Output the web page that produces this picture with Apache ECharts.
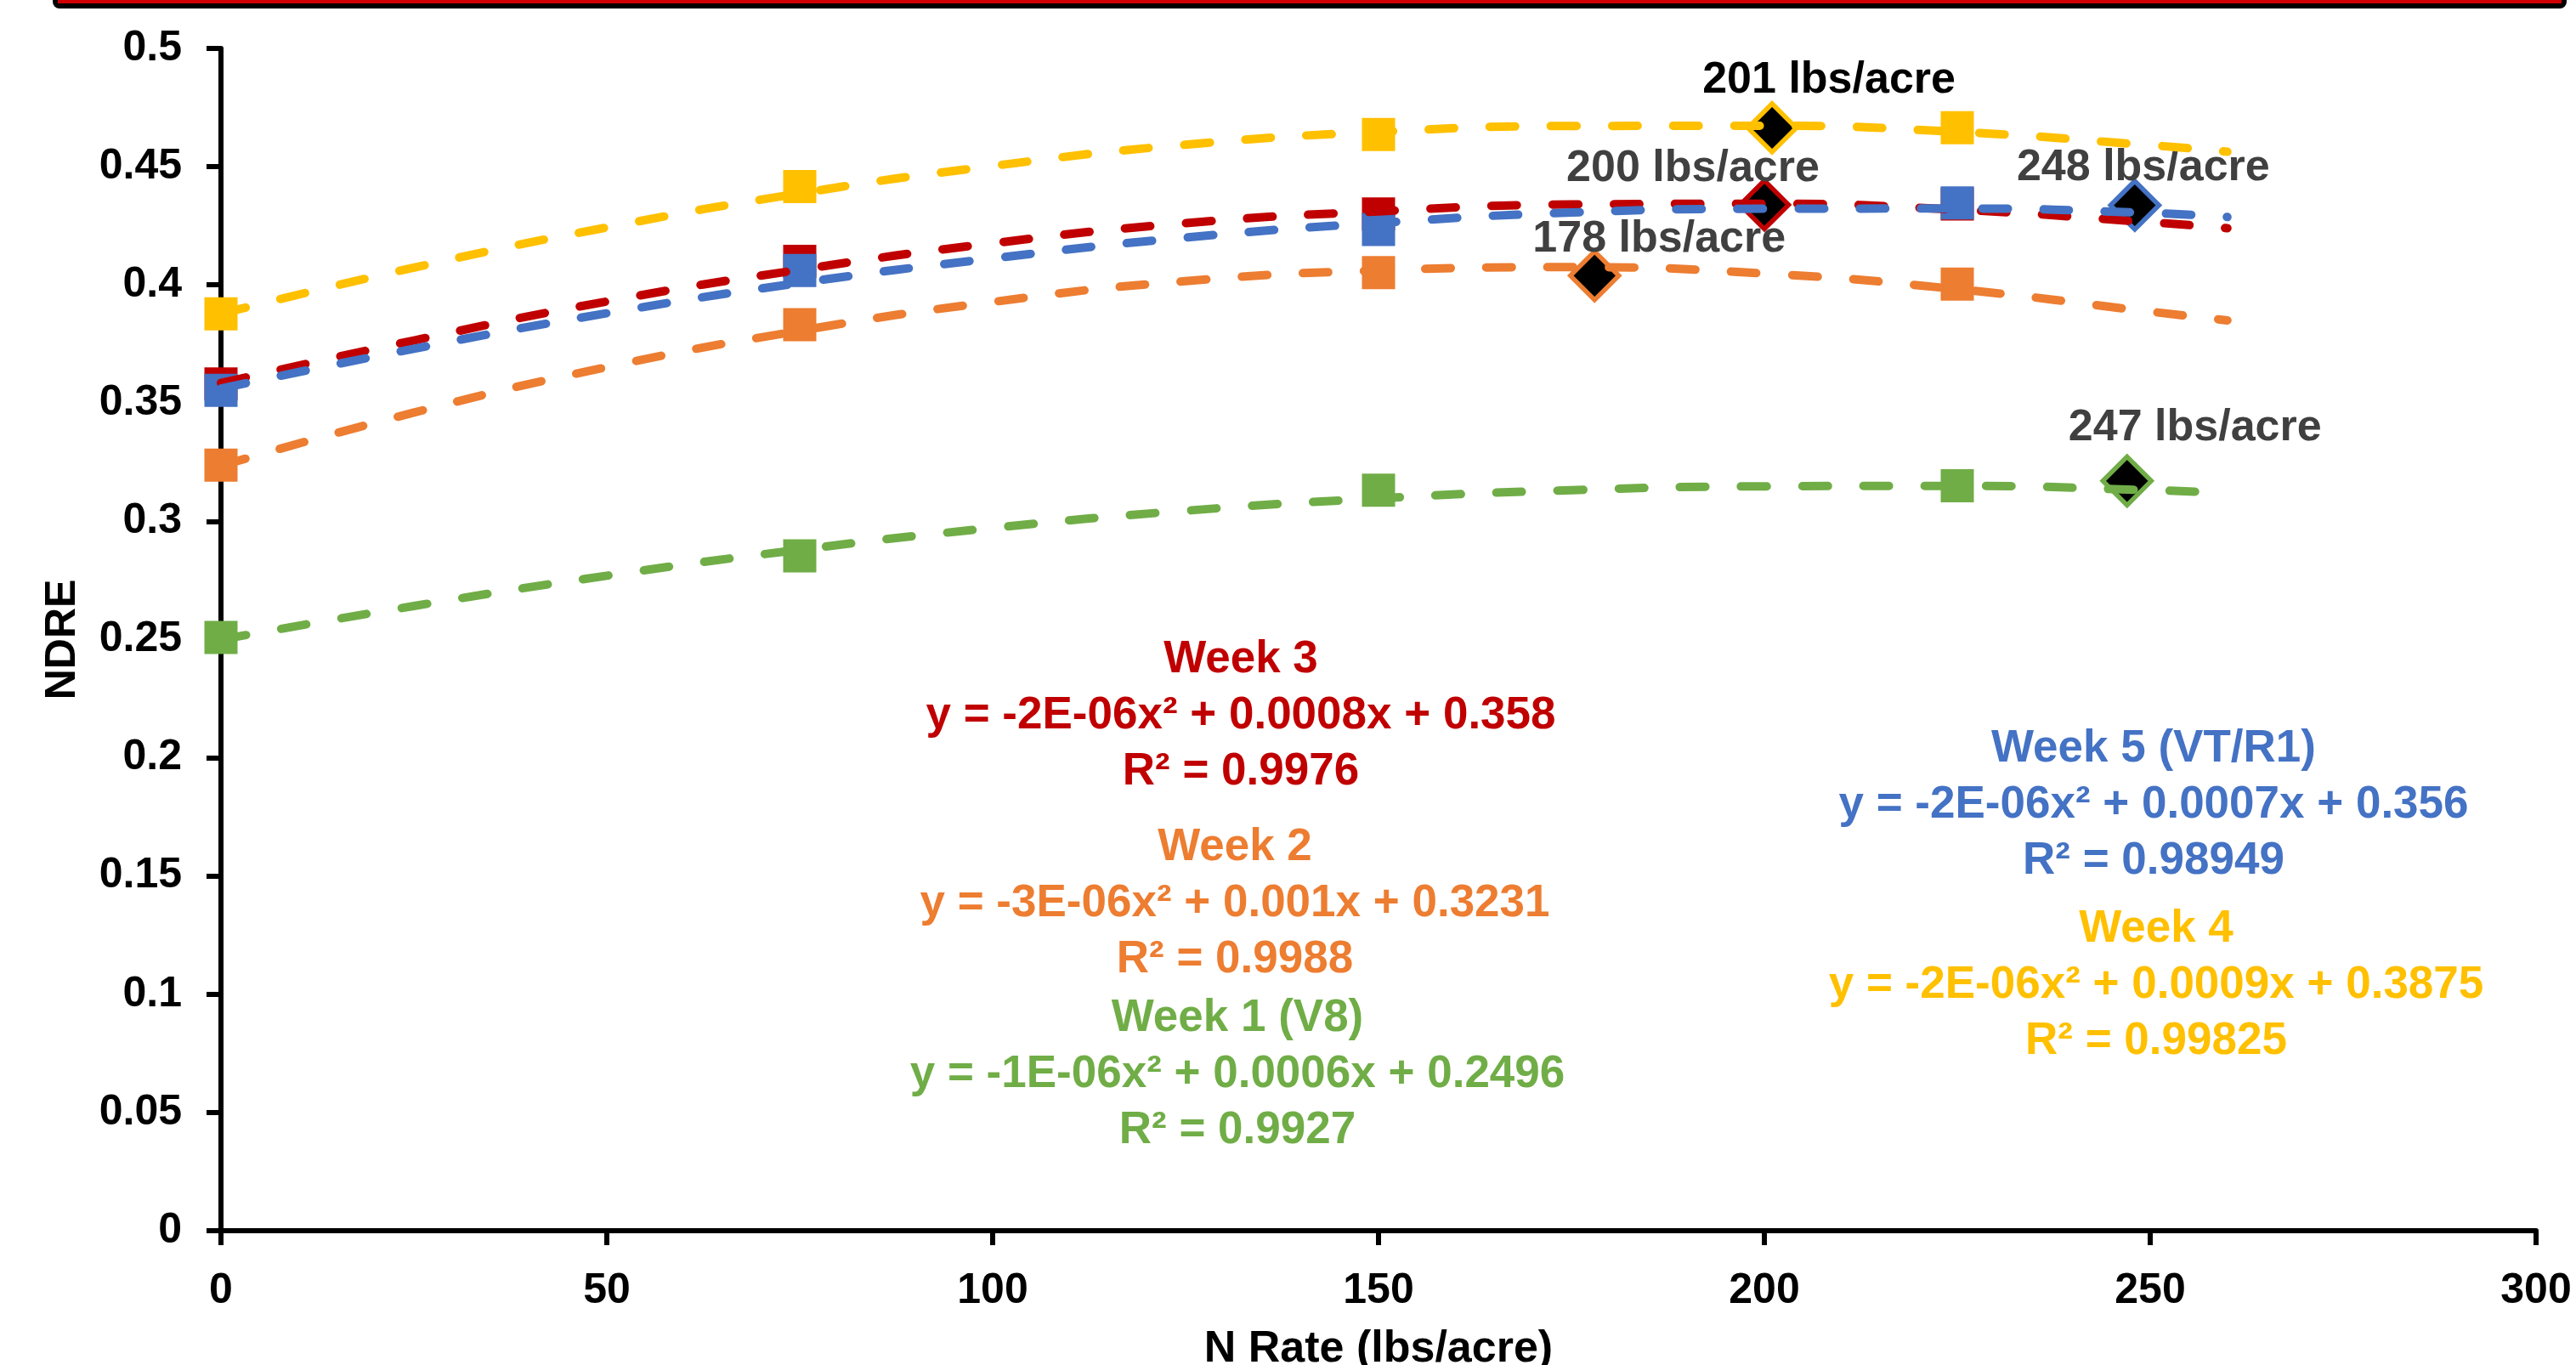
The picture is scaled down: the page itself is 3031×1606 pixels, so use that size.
<!DOCTYPE html>
<html>
<head>
<meta charset="utf-8">
<script src="https://cdn.jsdelivr.net/npm/echarts@6/dist/echarts.min.js"></script>
<style>
html,body{margin:0;padding:0;background:#fff;}
#chart{width:3031px;height:1606px;}
</style>
</head>
<body>
<div id="chart"></div>
<script>
// ---------------- DATA ----------------
const weekNames = ['Week 1 (V8)', 'Week 2', 'Week 3', 'Week 4', 'Week 5 (VT/R1)'];
const nRates = [0, 75, 150, 225];
const week1 = [0.2509, 0.2854, 0.3132, 0.3151];
const week2 = [0.3238, 0.3832, 0.4052, 0.4003];
const week3 = [0.3581, 0.4100, 0.4300, 0.4342];
const week4 = [0.3878, 0.4416, 0.4636, 0.4665];
const week5 = [0.3554, 0.4061, 0.4234, 0.4347];

// trend lines
const trendX = [0, 25, 50, 75, 100, 125, 150, 175, 200, 225, 250, 260];
const trend1 = [0.2500, 0.2642, 0.2770, 0.2880, 0.2972, 0.3045, 0.3097, 0.3132, 0.3148, 0.3150, 0.3132, 0.3120];
const trend2 = [0.3235, 0.3460, 0.3652, 0.3806, 0.3928, 0.4016, 0.4061, 0.4075, 0.4048, 0.3982, 0.3887, 0.3850];
const trend3 = [0.3585, 0.3765, 0.3930, 0.4064, 0.4176, 0.4261, 0.4311, 0.4340, 0.4343, 0.4318, 0.4265, 0.4240];
const trend4 = [0.3878, 0.4073, 0.4243, 0.4387, 0.4503, 0.4593, 0.4647, 0.4672, 0.4673, 0.4647, 0.4591, 0.4563];
const trend5 = [0.3562, 0.3730, 0.3880, 0.4008, 0.4112, 0.4200, 0.4262, 0.4306, 0.4322, 0.4323, 0.4304, 0.4287];

// optimum N rate markers
const optRate = [247, 178, 200, 201, 248];
const optNdre = [0.3171, 0.4039, 0.4339, 0.4664, 0.4337];

// trend equation texts
const eqTitles = ['Week 1 (V8)', 'Week 2', 'Week 3', 'Week 4', 'Week 5 (VT/R1)'];
const eqFormulas = [
  'y = -1E-06x² + 0.0006x + 0.2496',
  'y = -3E-06x² + 0.001x + 0.3231',
  'y = -2E-06x² + 0.0008x + 0.358',
  'y = -2E-06x² + 0.0009x + 0.3875',
  'y = -2E-06x² + 0.0007x + 0.356'
];
const eqR2 = ['R² = 0.9927', 'R² = 0.9988', 'R² = 0.9976', 'R² = 0.99825', 'R² = 0.98949'];

// axis ticks
const xMin = 0, xMax = 300, xStep = 50;
const yMin = 0, yMax = 0.5, yStep = 0.05;

// ---------------- STYLE ----------------
const colors = ['#70AD47', '#ED7D31', '#C00000', '#FFC000', '#4472C4'];
const FONT = '"Liberation Sans", Arial, sans-serif';
const labelOffsets = [[80, -62], [76, -43], [-84, -42], [67, -56], [10, -44]];
const labelColors = ['#404040', '#404040', '#404040', '#000000', '#404040'];
const eqPos = [[1456, 1264], [1453, 1063], [1460, 842], [2537, 1159], [2534, 947]];

const weeks = [week1, week2, week3, week4, week5];
const trends = [trend1, trend2, trend3, trend4, trend5];

const series = [];
weeks.forEach((w, i) => {
  series.push({
    name: weekNames[i],
    type: 'scatter',
    symbol: 'rect',
    symbolSize: 39,
    z: 2,
    itemStyle: { color: colors[i], opacity: 1 },
    data: nRates.map((x, j) => [x, w[j]])
  });
});
optRate.forEach((r, i) => {
  series.push({
    name: weekNames[i] + ' optimum',
    type: 'scatter',
    symbol: 'diamond',
    symbolSize: 57,
    z: 3,
    itemStyle: { color: '#000', borderColor: colors[i], borderWidth: 5.5, opacity: 1 },
    label: {
      show: true,
      position: 'inside',
      offset: labelOffsets[i],
      formatter: r + ' lbs/acre',
      fontFamily: FONT,
      fontSize: 52,
      fontWeight: 'bold',
      color: labelColors[i]
    },
    data: [[r, optNdre[i]]]
  });
});
trends.forEach((t, i) => {
  series.push({
    name: weekNames[i] + ' trend',
    type: 'line',
    showSymbol: false,
    smooth: true,
    z: 4,
    lineStyle: { color: colors[i], width: 10, type: [30, 42], cap: 'round' },
    data: trendX.map((x, j) => [x, t[j]])
  });
});

const graphics = [
  { type: 'rect', z: 10, shape: { x: 62, y: -40, width: 2958, height: 50, r: 8 }, style: { fill: '#000' } },
  { type: 'rect', z: 11, shape: { x: 68, y: -40, width: 2946, height: 44 }, style: { fill: '#D00000' } }
];
eqTitles.forEach((t, i) => {
  graphics.push({
    type: 'text',
    x: eqPos[i][0],
    y: eqPos[i][1],
    z: 20,
    style: {
      text: t + '\n' + eqFormulas[i] + '\n' + eqR2[i],
      fill: colors[i],
      font: 'bold 53px ' + FONT,
      align: 'center',
      verticalAlign: 'middle',
      textAlign: 'center',
      textVerticalAlign: 'middle',
      lineHeight: 66
    }
  });
});

const chart = echarts.init(document.getElementById('chart'), null, { renderer: 'canvas' });
chart.setOption({
  animation: false,
  backgroundColor: '#ffffff',
  grid: { left: 260, right: 47, top: 57, bottom: 158, containLabel: false, outerBoundsMode: 'none' },
  xAxis: {
    type: 'value',
    min: xMin, max: xMax, interval: xStep,
    name: 'N Rate (lbs/acre)',
    nameLocation: 'middle',
    nameGap: 114,
    nameTextStyle: { fontFamily: FONT, fontSize: 52, fontWeight: 'bold', color: '#000' },
    axisLine: { show: true, onZero: false, lineStyle: { color: '#000', width: 6 } },
    axisTick: { show: true, inside: false, length: 17, lineStyle: { color: '#000', width: 6 } },
    axisLabel: { fontFamily: FONT, fontSize: 50, fontWeight: 'bold', color: '#000', margin: 46 },
    splitLine: { show: false }
  },
  yAxis: {
    type: 'value',
    min: yMin, max: yMax, interval: yStep,
    name: 'NDRE',
    nameLocation: 'middle',
    nameGap: 161,
    nameRotate: 90,
    nameTextStyle: { fontFamily: FONT, fontSize: 50, fontWeight: 'bold', color: '#000' },
    axisLine: { show: true, onZero: false, lineStyle: { color: '#000', width: 6 } },
    axisTick: { show: true, inside: false, length: 17, lineStyle: { color: '#000', width: 6 } },
    axisLabel: { fontFamily: FONT, fontSize: 50, fontWeight: 'bold', color: '#000', margin: 46 },
    splitLine: { show: false }
  },
  series: series,
  graphic: graphics
});
</script>
</body>
</html>
